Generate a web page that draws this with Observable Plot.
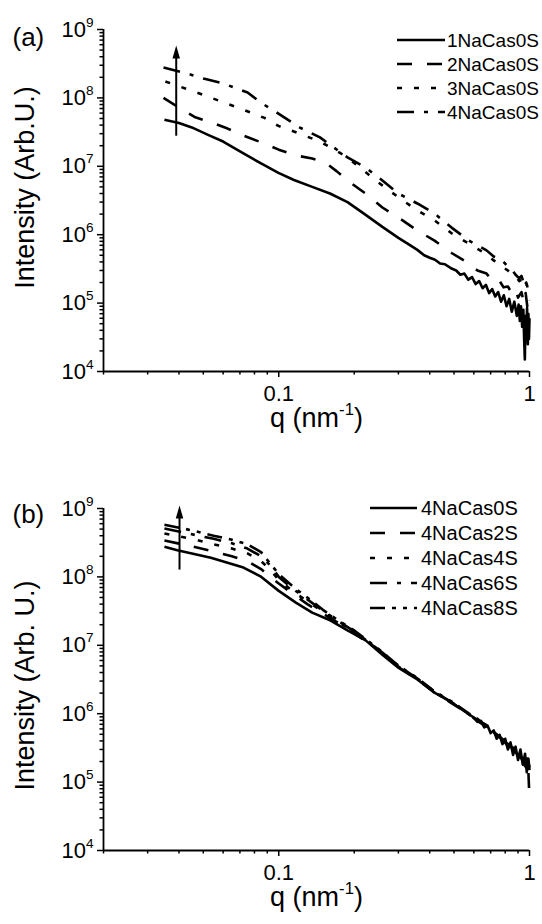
<!DOCTYPE html>
<html>
<head>
<meta charset="utf-8">
<script src="https://cdn.jsdelivr.net/npm/d3@7"></script>
<script src="https://cdn.jsdelivr.net/npm/@observablehq/plot@0.6"></script>
<style>
  html, body { margin: 0; padding: 0; background: #fff; }
  #wrap { width: 542px; height: 924px; font-family: "Liberation Sans", Arial, Helvetica, sans-serif; }
  #wrap svg { display: block; }
</style>
</head>
<body>
<div id="wrap"></div>
<script>
// ---------- axis ticks & labels ----------
const xMajorTicks = [0.1, 1];
const xMajorLabels = ["0.1", "1"];
const xMinorTicks = [0.02, 0.03, 0.04, 0.05, 0.06, 0.07, 0.08, 0.09, 0.2, 0.3, 0.4, 0.5, 0.6, 0.7, 0.8, 0.9];
const yMajorTicks = [1e4, 1e5, 1e6, 1e7, 1e8, 1e9];
const yMajorLabels = ["10^4", "10^5", "10^6", "10^7", "10^8", "10^9"];
const yMinorTicks = [2e4, 3e4, 4e4, 5e4, 6e4, 7e4, 8e4, 9e4,
                     2e5, 3e5, 4e5, 5e5, 6e5, 7e5, 8e5, 9e5,
                     2e6, 3e6, 4e6, 5e6, 6e6, 7e6, 8e6, 9e6,
                     2e7, 3e7, 4e7, 5e7, 6e7, 7e7, 8e7, 9e7,
                     2e8, 3e8, 4e8, 5e8, 6e8, 7e8, 8e8, 9e8];
const xTitle = "q (nm^-1^)";
const panelLabels = ["(a)", "(b)"];
const yTitles = ["Intensity (Arb.U.)", "Intensity (Arb. U.)"];

// ---------- panel (a) series ----------
const names_a = ["1NaCas0S", "2NaCas0S", "3NaCas0S", "4NaCas0S"];

const q_1NaCas0S = [0.035, 0.040, 0.045, 0.0525, 0.06, 0.0723, 0.085, 0.0997, 0.115, 0.136, 0.16, 0.188, 0.22, 0.259, 0.30, 0.33, 0.357, 0.38, 0.40, 0.42, 0.44, 0.46, 0.489,
  0.51, 0.53, 0.55, 0.57, 0.59, 0.61, 0.63, 0.65, 0.67, 0.69, 0.71, 0.73, 0.75, 0.77, 0.79, 0.81, 0.83, 0.85, 0.87, 0.89, 0.905, 0.915, 0.925, 0.935, 0.945, 0.952, 0.958, 0.965, 0.972, 0.978, 0.985, 0.99, 0.995, 1.0];
const I_1NaCas0S = [4.8e7, 4.3e7, 3.7e7, 2.85e7, 2.3e7, 1.55e7, 1.1e7, 8.0e6, 6.3e6, 5.0e6, 4.0e6, 3.0e6, 2.0e6, 1.3e6, 9.0e5, 7.2e5, 6.0e5, 5.0e5, 4.6e5, 4.3e5, 3.8e5, 3.7e5, 3.2e5,
  3.0e5, 2.6e5, 2.7e5, 2.2e5, 2.4e5, 1.9e5, 2.1e5, 1.65e5, 1.85e5, 1.4e5, 1.6e5, 1.25e5, 1.45e5, 1.05e5, 1.3e5, 9.0e4, 1.15e5, 7.5e4, 1.05e5, 6.5e4, 9.5e4, 5.5e4, 9.0e4, 4.5e4, 8.0e4, 3.0e4, 1.5e4, 6.5e4, 3.5e4, 8.5e4, 2.5e4, 7.0e4, 3.0e4, 6.0e4];

const q_2NaCas0S = [0.0347, 0.040, 0.0465, 0.0545, 0.0625, 0.0724, 0.0877, 0.10, 0.117, 0.136, 0.155, 0.17, 0.188, 0.222, 0.259, 0.30, 0.357, 0.418, 0.489, 0.573,
  0.62, 0.674, 0.72, 0.76, 0.788, 0.82, 0.85, 0.88, 0.90, 0.929, 0.95, 0.965, 0.98, 0.99, 1.0];
const I_2NaCas0S = [1.0e8, 7.2e7, 5.2e7, 4.3e7, 3.56e7, 2.8e7, 2.15e7, 1.75e7, 1.44e7, 1.3e7, 1.1e7, 8.5e6, 6.2e6, 4.0e6, 2.5e6, 1.78e6, 1.15e6, 8.2e5, 5.4e5, 3.8e5,
  3.0e5, 2.7e5, 2.0e5, 2.1e5, 1.7e5, 1.75e5, 1.4e5, 1.6e5, 1.2e5, 1.45e5, 1.0e5, 1.4e5, 9.0e4, 1.3e5, 1.1e5];

const q_3NaCas0S = [0.0353, 0.0424, 0.0509, 0.0602, 0.0724, 0.0877, 0.0997, 0.121, 0.146, 0.177, 0.201, 0.244, 0.276, 0.313, 0.357, 0.418, 0.489, 0.573,
  0.62, 0.674, 0.72, 0.76, 0.788, 0.82, 0.85, 0.88, 0.91, 0.929, 0.95, 0.97, 0.985, 1.0];
const I_3NaCas0S = [1.74e8, 1.37e8, 1.08e8, 8.6e7, 6.7e7, 5.1e7, 3.9e7, 3.0e7, 2.3e7, 1.54e7, 1.1e7, 6.2e6, 4.4e6, 3.16e6, 2.26e6, 1.62e6, 1.05e6, 7.4e5,
  6.2e5, 5.2e5, 4.2e5, 3.8e5, 3.3e5, 3.0e5, 2.6e5, 2.5e5, 2.1e5, 2.2e5, 1.7e5, 2.0e5, 1.5e5, 1.8e5];

const q_4NaCas0S_a = [0.0347, 0.0417, 0.0501, 0.0602, 0.0751, 0.0845, 0.0997, 0.121, 0.146, 0.166, 0.188, 0.222, 0.259, 0.30, 0.357, 0.418, 0.489, 0.573,
  0.62, 0.674, 0.72, 0.76, 0.788, 0.82, 0.85, 0.88, 0.91, 0.929, 0.95, 0.97, 0.985, 1.0];
const I_4NaCas0S_a = [2.78e8, 2.35e8, 1.92e8, 1.62e8, 1.2e8, 8.6e7, 5.9e7, 3.7e7, 2.65e7, 1.88e7, 1.35e7, 9.6e6, 6.2e6, 4.0e6, 2.86e6, 2.04e6, 1.27e6, 8.2e5,
  7.0e5, 5.9e5, 4.8e5, 4.5e5, 4.0e5, 3.4e5, 3.1e5, 2.6e5, 2.3e5, 2.5e5, 1.9e5, 2.1e5, 1.6e5, 1.9e5];

// ---------- panel (b) series ----------
const names_b = ["4NaCas0S", "4NaCas2S", "4NaCas4S", "4NaCas6S", "4NaCas8S"];

const q_4NaCas0S_b = [0.035, 0.0394, 0.0536, 0.0723, 0.0845, 0.0997, 0.117, 0.136, 0.161, 0.188, 0.222, 0.259, 0.30, 0.357, 0.418, 0.489, 0.573,
  0.60, 0.62, 0.64, 0.66, 0.68, 0.70, 0.72, 0.74, 0.76, 0.78, 0.80, 0.82, 0.84, 0.86, 0.88, 0.90, 0.92, 0.94, 0.96, 0.975, 0.99, 1.0];
const I_4NaCas0S_b = [2.75e8, 2.45e8, 1.9e8, 1.37e8, 1.02e8, 6.3e7, 4.2e7, 3.0e7, 2.3e7, 1.65e7, 1.18e7, 7.3e6, 4.7e6, 3.16e6, 2.04e6, 1.46e6, 9.8e5,
  8.8e5, 7.6e5, 7.9e5, 6.3e5, 6.7e5, 5.2e5, 5.7e5, 4.3e5, 4.9e5, 3.6e5, 4.3e5, 3.0e5, 3.8e5, 2.5e5, 3.3e5, 2.1e5, 3.0e5, 1.8e5, 2.6e5, 1.4e5, 2.2e5, 1.5e5];

const q_4NaCas2S = [0.035, 0.045, 0.055, 0.065, 0.075, 0.085, 0.10, 0.115, 0.13, 0.15, 0.17, 0.20, 0.25, 0.30, 0.36, 0.42, 0.49, 0.57,
  0.62, 0.67, 0.72, 0.77, 0.82, 0.86, 0.90, 0.93, 0.96, 0.98, 0.99, 1.0];
const I_4NaCas2S = [3.4e8, 2.8e8, 2.35e8, 2.0e8, 1.7e8, 1.3e8, 8.0e7, 5.5e7, 4.0e7, 2.9e7, 2.2e7, 1.5e7, 8.5e6, 4.8e6, 3.1e6, 2.0e6, 1.42e6, 1.0e6,
  7.8e5, 6.6e5, 5.2e5, 4.4e5, 3.4e5, 3.0e5, 2.4e5, 2.2e5, 1.7e5, 2.0e5, 1.4e5, 5.5e4];

const q_4NaCasXS = [0.035, 0.045, 0.055, 0.065, 0.075, 0.085, 0.092, 0.10, 0.115, 0.13, 0.15, 0.17, 0.20, 0.25, 0.30, 0.36, 0.42, 0.49, 0.57,
  0.62, 0.67, 0.72, 0.77, 0.82, 0.86, 0.90, 0.93, 0.96, 0.98, 1.0];
const I_4NaCas4S = [4.3e8, 3.6e8, 3.0e8, 2.6e8, 2.2e8, 1.7e8, 1.3e8, 9.0e7, 6.0e7, 4.4e7, 3.1e7, 2.3e7, 1.55e7, 8.6e6, 4.9e6, 3.15e6, 2.05e6, 1.45e6, 9.9e5,
  8.2e5, 6.8e5, 5.3e5, 4.5e5, 3.6e5, 3.1e5, 2.5e5, 2.3e5, 1.8e5, 2.1e5, 1.6e5];
const I_4NaCas6S = [5.1e8, 4.2e8, 3.6e8, 3.1e8, 2.6e8, 2.0e8, 1.5e8, 1.0e8, 6.5e7, 4.7e7, 3.2e7, 2.35e7, 1.6e7, 8.7e6, 5.0e6, 3.2e6, 2.07e6, 1.47e6, 1.0e6,
  8.0e5, 6.9e5, 5.1e5, 4.6e5, 3.5e5, 3.2e5, 2.4e5, 2.4e5, 1.7e5, 2.0e5, 1.7e5];
const I_4NaCas8S = [5.8e8, 4.8e8, 4.0e8, 3.5e8, 3.0e8, 2.3e8, 1.6e8, 1.1e8, 7.0e7, 5.0e7, 3.3e7, 2.4e7, 1.65e7, 8.8e6, 5.05e6, 3.25e6, 2.1e6, 1.5e6, 1.02e6,
  8.4e5, 6.7e5, 5.4e5, 4.4e5, 3.7e5, 3.0e5, 2.6e5, 2.2e5, 1.9e5, 2.2e5, 1.6e5];

// ---------- arrows (q, tail intensity, head intensity) ----------
const arrowQ = [0.039, 0.0402];
const arrowFrom = [2.8e7, 1.28e8];
const arrowHead = [4.7e8, 8.9e8];

// ---------- line styles ----------
const dashStyles = [null, "15,15", "5,12", "17,10,4,10", "15,7,4,7,4,7"];

function rows(q, I) { return q.map((v, i) => ({q: v, I: I[i]})); }

const narrowTriangle = {
  draw(context, size) {
    const r = Math.sqrt(size / Math.PI);
    context.moveTo(0, -1.3 * r);
    context.lineTo(0.75 * r, 1.3 * r);
    context.lineTo(-0.75 * r, 1.3 * r);
    context.closePath();
  }
};

const FONT = '"Liberation Sans", Arial, Helvetica, sans-serif';

function supify(svg) {
  const ns = "http://www.w3.org/2000/svg";
  svg.querySelectorAll("text").forEach(t => {
    const s = t.textContent;
    if (!s.includes("^") || t.querySelector("tspan")) return;
    const fs = parseFloat(getComputedStyle(t).fontSize) || 22;
    const parts = s.split("^");
    t.textContent = "";
    parts.forEach((p, k) => {
      const sup = k % 2 === 1;
      const ts = document.createElementNS(ns, "tspan");
      ts.textContent = p;
      if (sup) {
        ts.setAttribute("font-size", (fs * 0.62).toFixed(1));
        ts.setAttribute("dy", (-fs * 0.45).toFixed(1));
      } else if (k > 0) {
        ts.setAttribute("dy", (fs * 0.45).toFixed(1));
      }
      if (p !== "") t.appendChild(ts);
    });
  });
}

function panel(cfg) {
  const marks = [
    Plot.ruleX([0.02], {stroke: "black", strokeWidth: 1.8}),
    Plot.ruleY([1e4], {stroke: "black", strokeWidth: 1.8}),
    Plot.axisX(xMinorTicks, {tickSize: 3.5, strokeWidth: 1.5, tickFormat: () => "", label: null}),
    Plot.axisX(xMajorTicks, {tickSize: 6, tickPadding: 8, strokeWidth: 1.5, fontSize: 22,
      tickFormat: d => xMajorLabels[xMajorTicks.indexOf(d)], label: null}),
    Plot.axisY(yMinorTicks, {tickSize: 3.5, strokeWidth: 1.5, tickFormat: () => "", label: null}),
    Plot.axisY(yMajorTicks, {tickSize: 6, tickPadding: 4, strokeWidth: 1.5, fontSize: 22,
      tickFormat: d => yMajorLabels[yMajorTicks.indexOf(d)], label: null}),
    ...cfg.series.map(s => Plot.line(rows(s.q, s.I), {
      x: "q", y: "I", stroke: "black", strokeWidth: 2.6,
      strokeDasharray: s.dash || undefined, strokeLinecap: "butt", strokeLinejoin: "round"
    })),
    Plot.link([cfg.arrow], {x1: "q", x2: "q", y1: "from", y2: "head", stroke: "black", strokeWidth: 2}),
    Plot.dot([cfg.arrow], {x: "q", y: "head", symbol: narrowTriangle, r: 5, fill: "black", stroke: "none"}),
    Plot.text([cfg.label], {frameAnchor: "top-left", textAnchor: "start", lineAnchor: "middle", dx: -91, dy: cfg.labelDy, fontSize: 26}),
    Plot.text([cfg.yTitle], {frameAnchor: "left", textAnchor: "middle", lineAnchor: "middle", rotate: -90, dx: -78.5, dy: cfg.yTitleDy, fontSize: 27}),
    Plot.text([xTitle], {frameAnchor: "bottom", textAnchor: "middle", lineAnchor: "middle", dy: 47, fontSize: 27})
  ];
  const svg = Plot.plot({
    width: 542, height: 462,
    marginLeft: 103, marginRight: 13, marginTop: cfg.marginTop, marginBottom: cfg.marginBottom,
    x: {type: "log", domain: [0.02, 1], label: null},
    y: {type: "log", domain: [1e4, 1e9], label: null},
    style: {fontFamily: FONT, color: "black", background: "white", overflow: "visible"},
    marks
  });
  document.getElementById("wrap").appendChild(svg);
  supify(svg);
  // legend
  const L = cfg.legend;
  const g = d3.select(svg).append("g").attr("font-family", FONT).attr("font-size", L.fontSize)
    .attr("fill", "black").attr("text-anchor", "start");
  cfg.series.forEach((s, i) => {
    const y = L.y0 + i * L.step;
    g.append("line").attr("x1", L.x1).attr("x2", L.x2).attr("y1", y).attr("y2", y)
      .attr("stroke", "black").attr("stroke-width", 2.6).attr("stroke-dasharray", s.dash);
    g.append("text").attr("x", L.tx).attr("y", y).attr("dy", "0.36em").text(s.name);
  });
}

panel({
  label: panelLabels[0], labelDy: 8, yTitle: yTitles[0], yTitleDy: -13,
  marginTop: 29, marginBottom: 91,
  series: [
    {name: names_a[0], q: q_1NaCas0S, I: I_1NaCas0S, dash: dashStyles[0]},
    {name: names_a[1], q: q_2NaCas0S, I: I_2NaCas0S, dash: dashStyles[1]},
    {name: names_a[2], q: q_3NaCas0S, I: I_3NaCas0S, dash: dashStyles[2]},
    {name: names_a[3], q: q_4NaCas0S_a, I: I_4NaCas0S_a, dash: dashStyles[3]}
  ],
  arrow: {q: arrowQ[0], from: arrowFrom[0], head: arrowHead[0]},
  legend: {x1: 397, x2: 445, tx: 447, y0: 40, step: 24, fontSize: 19}
});

panel({
  label: panelLabels[1], labelDy: 6, yTitle: yTitles[1], yTitleDy: 6,
  marginTop: 46, marginBottom: 74,
  series: [
    {name: names_b[0], q: q_4NaCas0S_b, I: I_4NaCas0S_b, dash: dashStyles[0]},
    {name: names_b[1], q: q_4NaCas2S, I: I_4NaCas2S, dash: dashStyles[1]},
    {name: names_b[2], q: q_4NaCasXS, I: I_4NaCas4S, dash: dashStyles[2]},
    {name: names_b[3], q: q_4NaCasXS, I: I_4NaCas6S, dash: dashStyles[3]},
    {name: names_b[4], q: q_4NaCasXS, I: I_4NaCas8S, dash: dashStyles[4]}
  ],
  arrow: {q: arrowQ[1], from: arrowFrom[1], head: arrowHead[1]},
  legend: {x1: 370, x2: 417, tx: 421, y0: 46, step: 25, fontSize: 20}
});
</script>
</body>
</html>
